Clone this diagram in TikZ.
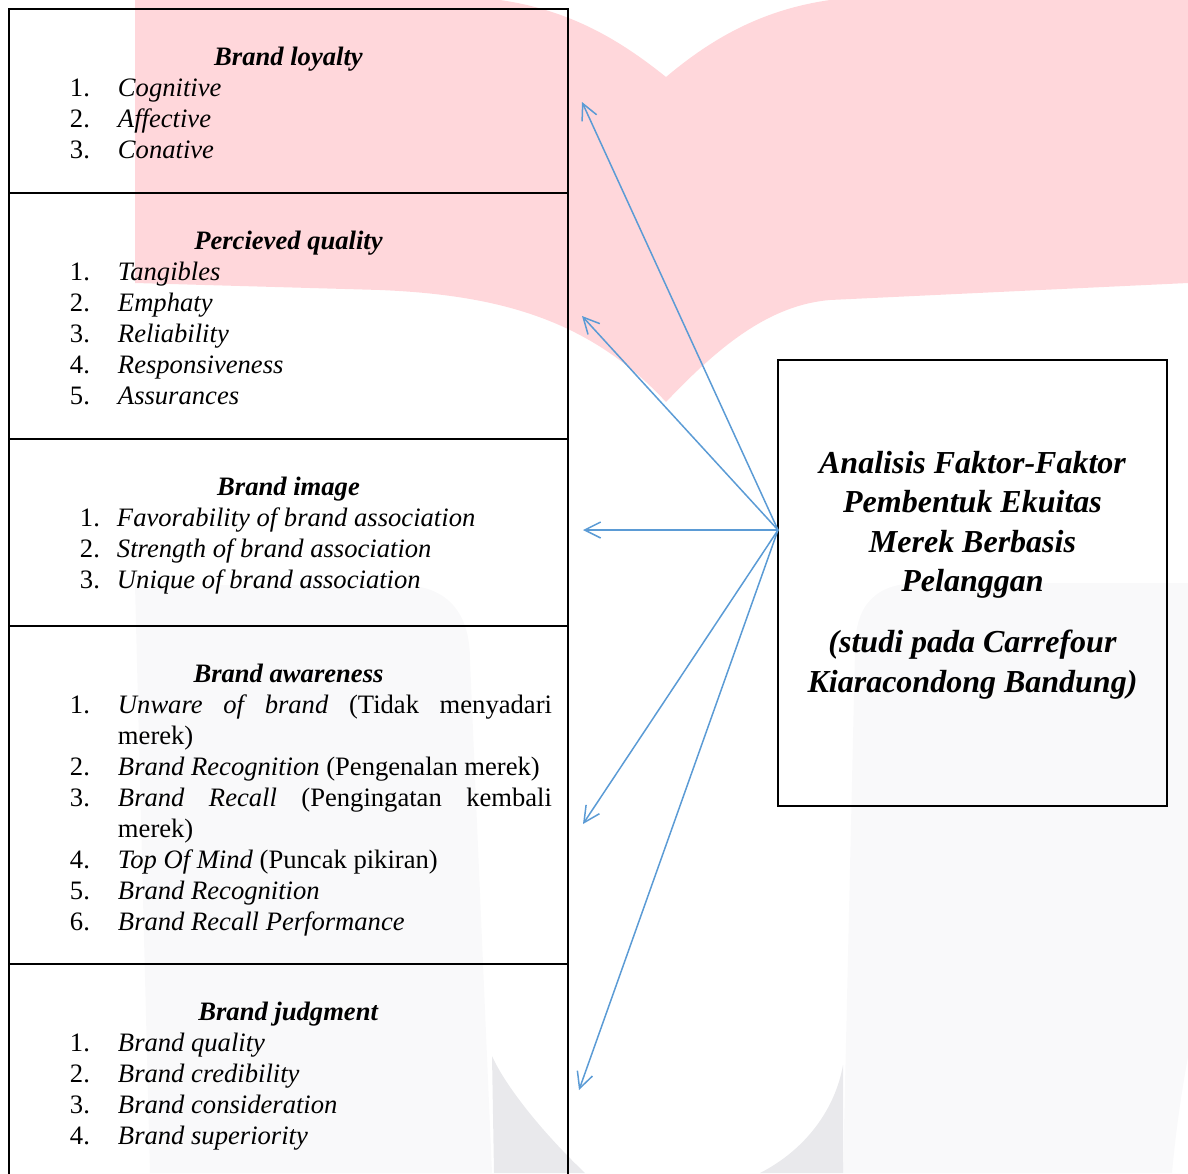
\documentclass[tikz,border=0pt]{standalone}
\usepackage{fontspec}
\setmainfont{Liberation Serif}
\usepackage{tikz}
\usetikzlibrary{positioning, arrows.meta}

\definecolor{arrowblue}{RGB}{91,155,213}
\definecolor{wmpink}{RGB}{255,215,219}
\definecolor{wmgrey}{RGB}{249,249,250}
\definecolor{wmdark}{RGB}{233,233,236}

% box content
\newcommand{\panel}[2]{\parbox[c][#1][t]{279.5pt}{\centering\fontsize{13.3}{15.5}\selectfont #2}}
\newcommand{\ttl}[1]{\rule{0pt}{28.25pt}\textbf{\textit{#1}}\par}
\newcommand{\itm}[2]{\makebox[\linewidth][l]{\hspace*{30.5pt}\makebox[24pt][l]{#1}#2}\par}
\newcommand{\itmb}[2]{\makebox[\linewidth][l]{\hspace*{35.5pt}\makebox[18.5pt][l]{#1}#2}\par}
\newcommand{\jst}[1]{\makebox[217pt][s]{#1}}

\begin{document}
\begin{tikzpicture}[x=0.5pt, y=-0.5pt,
    panel/.style={draw, line width=1pt, inner sep=0pt, outer sep=0pt},
    mainbox/.style={draw, line width=1.2pt, inner sep=0pt, outer sep=0pt},
    link/.style={draw=arrowblue, line width=0.75pt, -{Straight Barb[length=8pt,width=8pt]}}]
  \clip (0,0) rectangle (1188,1173);

  % Watermark
  \fill[wmpink] (135,0) -- (135,283) -- (380,290)
      .. controls (500,295) and (590,320) .. (666,402)
      .. controls (720,345) and (770,305) .. (830,300) -- (1188,283) -- (1188,0) -- (830,0)
      .. controls (760,10) and (710,40) .. (666,77)
      .. controls (620,40) and (570,10) .. (500,0) -- cycle;
  \fill[wmgrey] (150,1173) -- (135,585) -- (400,585)
      .. controls (445,585) and (470,610) .. (470,660) -- (492,1173) -- cycle;
  \fill[wmgrey] (843,1173) -- (855,650)
      .. controls (855,605) and (875,583) .. (920,583) -- (1188,583) -- (1188,1057)
      .. controls (1180,1100) and (1175,1140) .. (1172,1173) -- cycle;
  \fill[wmdark] (492,1056) .. controls (505,1085) and (540,1130) .. (585,1173) -- (494,1173) -- cycle;
  \fill[wmdark] (843,1065) .. controls (835,1110) and (805,1150) .. (760,1173) -- (843,1173) -- cycle;

  % Nodes
  \node[panel, anchor=north west] (loyalty) at (9,9) {\panel{92pt}{%
      \ttl{Brand loyalty}
      \itm{1.}{\textit{Cognitive}}
      \itm{2.}{\textit{Affective}}
      \itm{3.}{\textit{Conative}}}};
  \node[panel, below=0pt of loyalty] (quality) {\panel{123pt}{%
      \ttl{Percieved quality}
      \itm{1.}{\textit{Tangibles}}
      \itm{2.}{\textit{Emphaty}}
      \itm{3.}{\textit{Reliability}}
      \itm{4.}{\textit{Responsiveness}}
      \itm{5.}{\textit{Assurances}}}};
  \node[panel, below=0pt of quality] (image) {\panel{93.5pt}{%
      \ttl{Brand image}
      \itmb{1.}{\textit{Favorability of brand association}}
      \itmb{2.}{\textit{Strength of brand association}}
      \itmb{3.}{\textit{Unique of brand association}}}};
  \node[panel, below=0pt of image] (awareness) {\panel{169pt}{%
      \ttl{Brand awareness}
      \itm{1.}{\jst{\textit{Unware of brand} (Tidak menyadari}}
      \itm{}{merek)}
      \itm{2.}{\textit{Brand Recognition} (Pengenalan merek)}
      \itm{3.}{\jst{\textit{Brand Recall} (Pengingatan kembali}}
      \itm{}{merek)}
      \itm{4.}{\textit{Top Of Mind} (Puncak pikiran)}
      \itm{5.}{\textit{Brand Recognition}}
      \itm{6.}{\textit{Brand Recall Performance}}}};
  \node[panel, below=0pt of awareness] (judgment) {\panel{110pt}{%
      \ttl{Brand judgment}
      \itm{1.}{\textit{Brand quality}}
      \itm{2.}{\textit{Brand credibility}}
      \itm{3.}{\textit{Brand consideration}}
      \itm{4.}{\textit{Brand superiority}}}};

  \node[mainbox, anchor=north west] (main) at (778,360) {%
    \parbox[c][223pt][t]{194.5pt}{\centering\fontsize{16}{19.7}\selectfont\bfseries\itshape
      \rule{0pt}{56.75pt}Analisis Faktor-Faktor\\ Pembentuk Ekuitas\\ Merek Berbasis\\ Pelanggan\\[10.8pt]
      (studi pada Carrefour\\ Kiaracondong Bandung)}};

  % Arrows
  \coordinate (hub) at ([yshift=26.5pt]main.west);
  \foreach \n/\px/\py in {1/582/102, 2/582/316, 3/583/530, 4/583/824, 5/579/1090}
    \coordinate (tip\n) at (\px,\py);
  \foreach \n in {1,...,5}
    \draw[link] (hub) -- (tip\n);
\end{tikzpicture}
\end{document}
